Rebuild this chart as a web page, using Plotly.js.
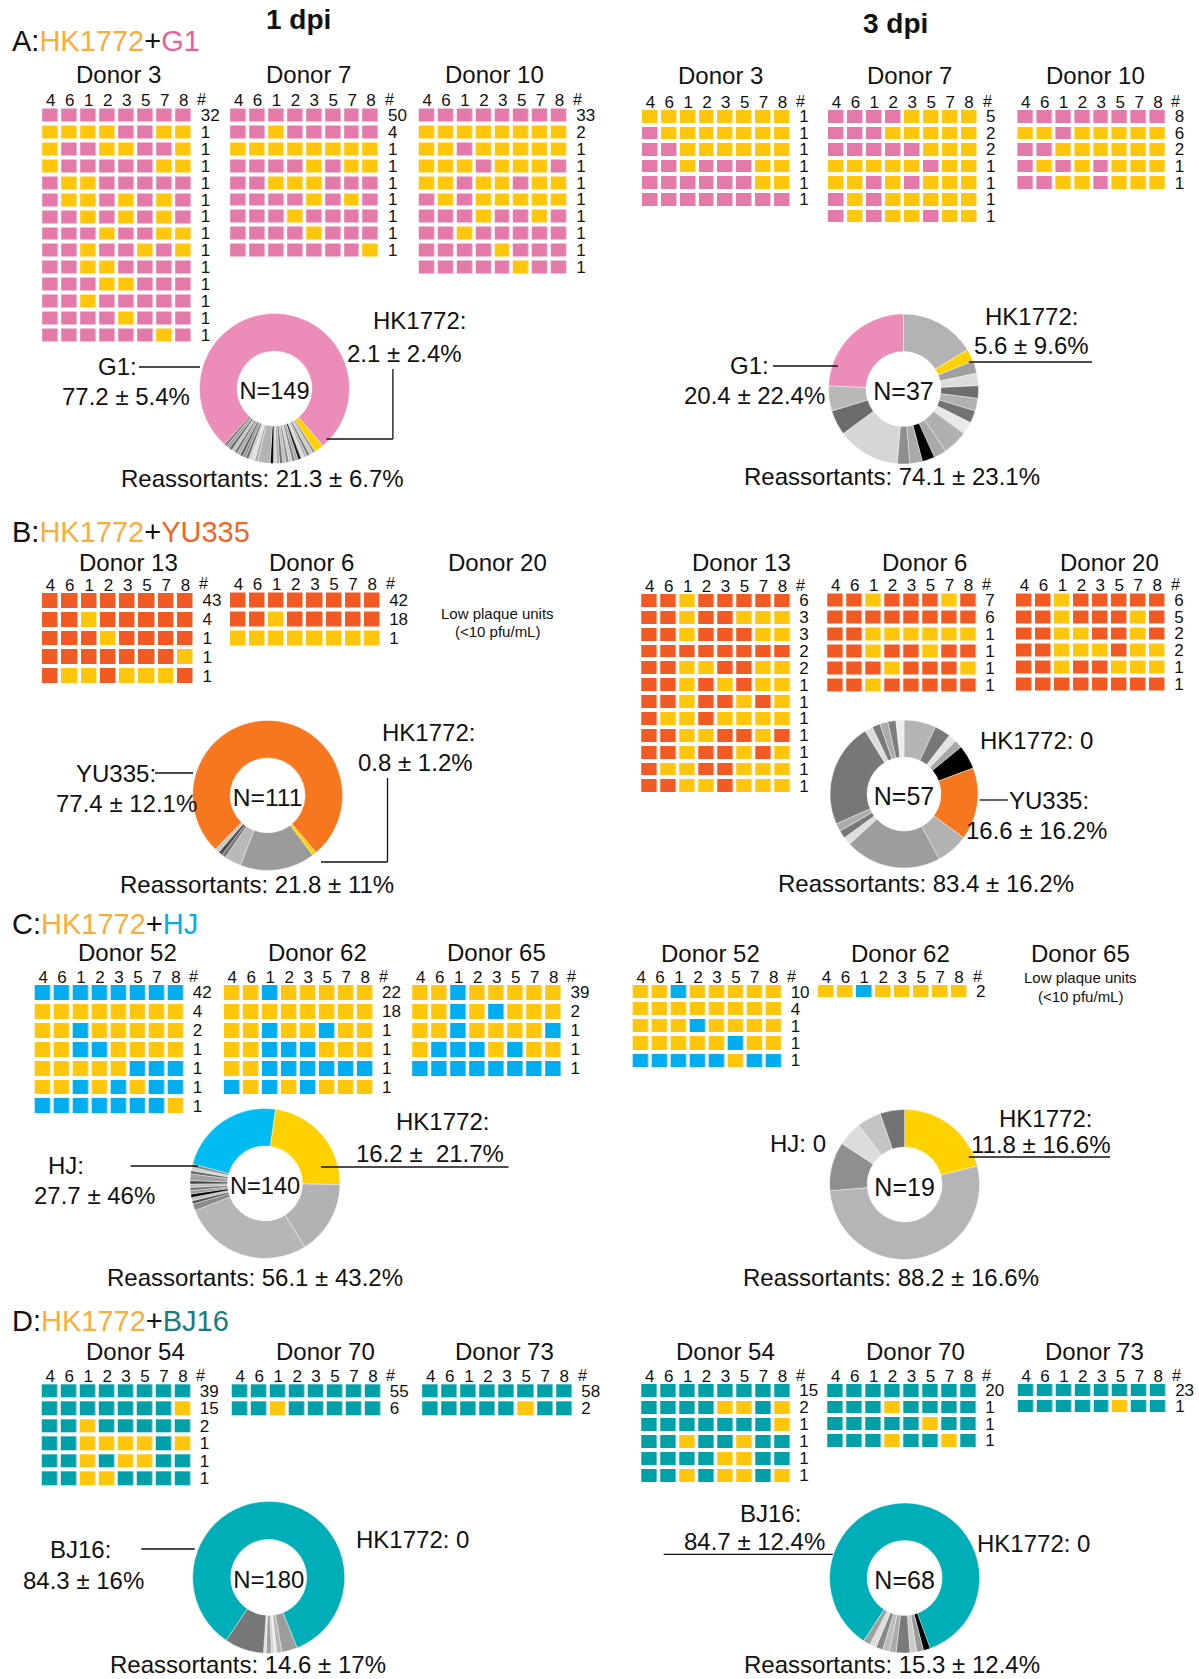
<!DOCTYPE html>
<html>
<head>
<meta charset="utf-8">
<script src="https://cdn.plot.ly/plotly-3.0.1.min.js"></script>
<style>html,body{margin:0;padding:0;background:#fff}#chart{width:1199px;height:1679px}</style>
</head>
<body>
<div id="chart"></div>
<script>
// ---------------- DATA ----------------
// Segment order of the genotype grids
const segments = ['4', '6', '1', '2', '3', '5', '7', '8'];
// H = segment from HK1772, P = segment from the partner strain

// A: HK1772 + G1, 1 dpi
const A1_D3_rows = ['PPPPPPPP','HHHHPPHH','HPPHHPPH','HPPPPPHH','PHHPPPPP','PHHPHPHP','PPHPHPHP','PPPHPPHH','PPHPPHPH','PPHHPPPP','PPPHHPPP','PPHPPPPP','PPPPHPPP','PPPPPPHP'];
const A1_D3_counts = [32,1,1,1,1,1,1,1,1,1,1,1,1,1];
const A1_D7_rows = ['PPPPPPPP','PPHPPPPP','HHHHHHHH','PPPPHPHH','PPHHHPPP','PPPPHPHP','PPPHPPPP','PPPPHPPP','PPPPPPPH'];
const A1_D7_counts = [50,4,1,1,1,1,1,1,1];
const A1_D10_rows = ['PPPPPPPP','HHHHHHHH','HHPHHHHH','HHHPHHHP','HHPHHPHH','PHPHHHHH','PPPHPPHP','PPHPPPPP','PPPPHPPP','PPPPPHPP'];
const A1_D10_counts = [33,2,1,1,1,1,1,1,1,1];
// A: 3 dpi
const A3_D3_rows = ['HHHHHHHH','PHHHHHHH','PPHHHHHH','PPHPPPHH','PPPPPPHH','PPPPPPPP'];
const A3_D3_counts = [1,1,1,1,1,1];
const A3_D7_rows = ['PPPPHHHH','PPPHHHHH','PPPPPHHH','HHHHHPHH','HHPHPHHH','PHPHHHHH','PHPHHPHH'];
const A3_D7_counts = [5,2,2,1,1,1,1];
const A3_D10_rows = ['PPPPPPPP','HHPHHHHH','PPHHHHHH','PHPHPHHH','PPHHPHHH'];
const A3_D10_counts = [8,6,2,1,1];

// B: HK1772 + YU335
const B1_D13_rows = ['PPPPPPPP','PPHPPPPP','PPPHPPPP','PPPPPPPH','PHHPHHHP'];
const B1_D13_counts = [43,4,1,1,1];
const B1_D6_rows = ['PPPPPPPP','PPHPPPPP','HHHHHHHH'];
const B1_D6_counts = [42,18,1];
const B3_D13_rows = ['PPHPPPPP','PPHPPHHH','PPHPPPHH','PPPPPPPP','PPHHPPHH','PPHPHPHH','PPHPPHPH','PHHPHHHH','PPHHPPHP','PPHPPHPH','PHHPPHHH','PPHHPHHH'];
const B3_D13_counts = [6,3,3,2,2,1,1,1,1,1,1,1];
const B3_D6_rows = ['PPHPPPHP','PPPPPPPP','PPHHHHHH','PPHPPHPP','PPPHPPPH','PPHPPPPP'];
const B3_D6_counts = [7,6,1,1,1,1];
const B3_D20_rows = ['PPHPPPPP','PPHPPPHP','PPHHPPHP','PPHHHPHH','PPHPPHHH','PPPPPPPP'];
const B3_D20_counts = [6,5,2,2,1,1];

// C: HK1772 + HJ
const C1_D52_rows = ['PPPPPPPP','HHHHHHHH','HHPHHHHH','HHPPHHHH','HHHHHPPP','HHPHPHPP','PPPPPPPH'];
const C1_D52_counts = [42,4,2,1,1,1,1];
const C1_D62_rows = ['HHPHHHHH','HHHHHHHH','HHPHHPHH','HHPPPHHH','HHPPPPPP','PHPHPHHH'];
const C1_D62_counts = [22,18,1,1,1,1];
const C1_D65_rows = ['HHPHHHHH','HHPHPHHH','HHPHHHHP','HPPPHPHH','PPPPPPPP'];
const C1_D65_counts = [39,2,1,1,1];
const C3_D52_rows = ['HHPHHHHH','HHHHHHHH','HHHPHHHH','HHHHHPHH','PPPPPHPP'];
const C3_D52_counts = [10,4,1,1,1];
const C3_D62_rows = ['HHPHHHHH'];
const C3_D62_counts = [2];

// D: HK1772 + BJ16
const D1_D54_rows = ['PPPPPPPP','PPPPPPPH','PPHPPPPP','PPHHHHPH','PPHPHHPP','PPHHPPPP'];
const D1_D54_counts = [39,15,2,1,1,1];
const D1_D70_rows = ['PPPPPPPP','PPHPPPPP'];
const D1_D70_counts = [55,6];
const D1_D73_rows = ['PPPPPPPP','PPPPPHPP'];
const D1_D73_counts = [58,2];
const D3_D54_rows = ['PPPPPPPP','PPPPHHPH','PPPPPPPH','PPHPPHPP','PPPPHHPP','PPHPHHPH'];
const D3_D54_counts = [15,2,1,1,1,1];
const D3_D70_rows = ['PPPPPPPP','PPPHPPPP','PPPPPHPP','PPPHPPHP'];
const D3_D70_counts = [20,1,1,1];
const D3_D73_rows = ['PPPPPPPP','PPPPPHPP'];
const D3_D73_counts = [23,1];

// Donut slices (clockwise) and slice colours
const pieA1_values = [115,3,1,1,1,1,1,1,1,1,1,1,1,1,1,1,1,4,1,1,1,1,1,1,1,1,1,1,1,1];
const pieA1_colors = ['g1','hk','#9a9a9a','#c6c6c6','#7a7a7a','#b4b4b4','#d9d9d9','#1a1a1a','#a3a3a3','#7f7f7f','#cccccc','#8d8d8d','#b8b8b8','#6f6f6f','#a6a6a6','#d0d0d0','#000000','#b3b3b5','#a9a9ab','#dedede','#cfcfcf','#6b6b6b','#909090','#5e5e5e','#a5a5a5','#777777','#c0c0c0','#686868','#9c9c9c','#808080'];
const pieA3_values = [6,1,1,1,1,1,1,1,2,1,1,1,1,5,2,2,9];
const pieA3_colors = ['#b3b3b5','hk','#a0a0a0','#dcdcdc','#6e6e6e','#b1b1b1','#737373','#e8e8e8','#b0b0b2','#a8a8aa','#000000','#a9a9a9','#8e8e8e','#d6d6d6','#6b6b6b','#b8b8b8','g1'];
const pieB1_values = [85,1,18,4,1,1,1];
const pieB1_colors = ['yu','hk','#9b9b9b','#b9b9b9','#7a7a7a','#4d4d4d','#c8c8c8'];
const pieB3_values = [4,2,1,1,3,9,4,12,1,1,1,13,1,1,1,1,1];
const pieB3_colors = ['#b4b4b6','#787878','#e3e3e3','#a8a8a8','#000000','yu','#b2b2b4','#9d9d9d','#dedede','#787878','#ababab','#777777','#dcdcdc','#7a7a7a','#aaaaaa','#7d7d7d','#ececec'];
const pieC1_values = [32,22,39,2,1,1,1,1,1,1,1,2,1,1,1,32];
const pieC1_colors = ['hk','#b2b2b4','#b6b6b8','#8a8a8a','#555555','#c0c0c0','#000000','#999999','#777777','#bbbbbb','#444444','#a0a0a0','#666666','#d0d0d0','#888888','hj'];
const pieC3_values = [4,10,2,1,1,1];
const pieC3_colors = ['hk','#b5b5b7','#8f8f8f','#dcdcdc','#c4c4c4','#727272'];
const pieD1_values = [152,6,2,1,1,2,1,15];
const pieD1_colors = ['bj','#9d9d9d','#b5b5b5','#e6e6e6','#cfcfcf','#a0a0a0','#dddddd','#777777'];
const pieD3_values = [58,1,1,1,2,1,1,1,1,1];
const pieD3_colors = ['bj','#000000','#9a9a9a','#cccccc','#7a7a7a','#aaaaaa','#bbbbbb','#888888','#dddddd','#a0a0a0'];

// ---------------- STYLE ----------------
const W = 1199, H = 1679;
const FONT = 'Liberation Sans, Arial, Helvetica, sans-serif';
const cellColor = {hk:'#FFC60B', g1:'#E37AA9', yu:'#F15A22', hj:'#00ADEF', bj:'#00A0A9'};
const pieColor = {hk:'#FFD100', g1:'#EC8DB9', yu:'#F7771E', hj:'#00BCF2', bj:'#00AEB7'};
const textColor = {hk:'#F9AE3C', g1:'#E8619C', yu:'#F26522', hj:'#00AEEF', bj:'#167C80'};
const px = x => x / W;
const py = y => 1 - y / H;

const grids = [
  {rows:A1_D3_rows, counts:A1_D3_counts, p:'g1', box:[42.9,108.5,191.6,341.5], title:'Donor 3', tx:118.4, ty:75},
  {rows:A1_D7_rows, counts:A1_D7_counts, p:'g1', box:[230.9,108.5,378.8,256.7], title:'Donor 7', tx:308.9, ty:75},
  {rows:A1_D10_rows, counts:A1_D10_counts, p:'g1', box:[419.5,108.5,567.1,273.5], title:'Donor 10', tx:494.6, ty:75},
  {rows:A3_D3_rows, counts:A3_D3_counts, p:'g1', box:[642.7,110,790.1,205.6], title:'Donor 3', tx:720.4, ty:76},
  {rows:A3_D7_rows, counts:A3_D7_counts, p:'g1', box:[828.7,110,976.8,222.2], title:'Donor 7', tx:909.8, ty:76},
  {rows:A3_D10_rows, counts:A3_D10_counts, p:'g1', box:[1018.1,110,1165.7,189], title:'Donor 10', tx:1095.8, ty:76},
  {rows:B1_D13_rows, counts:B1_D13_counts, p:'yu', box:[42.7,593,193.3,683], title:'Donor 13', tx:128.7, ty:563},
  {rows:B1_D6_rows, counts:B1_D6_counts, p:'yu', box:[230.7,592.5,380,645], title:'Donor 6', tx:311.7, ty:563},
  {rows:B3_D13_rows, counts:B3_D13_counts, p:'yu', box:[642,594,790.1,792.3], title:'Donor 13', tx:741, ty:562},
  {rows:B3_D6_rows, counts:B3_D6_counts, p:'yu', box:[828,593.5,976.1,691.7], title:'Donor 6', tx:924.8, ty:562},
  {rows:B3_D20_rows, counts:B3_D20_counts, p:'yu', box:[1016.7,593.5,1165,690], title:'Donor 20', tx:1109.6, ty:562},
  {rows:C1_D52_rows, counts:C1_D52_counts, p:'hj', box:[35.4,985,183.6,1113.3], title:'Donor 52', tx:127.7, ty:952},
  {rows:C1_D62_rows, counts:C1_D62_counts, p:'hj', box:[224.6,985,372.9,1094.4], title:'Donor 62', tx:317, ty:952},
  {rows:C1_D65_rows, counts:C1_D65_counts, p:'hj', box:[412.9,985,561.4,1075.5], title:'Donor 65', tx:497, ty:952},
  {rows:C3_D52_rows, counts:C3_D52_counts, p:'hj', box:[633.4,985,781.5,1066.7], title:'Donor 52', tx:710.4, ty:953},
  {rows:C3_D62_rows, counts:C3_D62_counts, p:'hj', box:[818.7,985,966.8,997.3], title:'Donor 62', tx:900.7, ty:953},
  {rows:D1_D54_rows, counts:D1_D54_counts, p:'bj', box:[42.5,1384.3,190.7,1485], title:'Donor 54', tx:135.4, ty:1351},
  {rows:D1_D70_rows, counts:D1_D70_counts, p:'bj', box:[232.5,1384.3,380.7,1415], title:'Donor 70', tx:325.2, ty:1351},
  {rows:D1_D73_rows, counts:D1_D73_counts, p:'bj', box:[422.9,1384.3,572.1,1415], title:'Donor 73', tx:504.5, ty:1351},
  {rows:D3_D54_rows, counts:D3_D54_counts, p:'bj', box:[642,1384,790.1,1481.7], title:'Donor 54', tx:725.6, ty:1351},
  {rows:D3_D70_rows, counts:D3_D70_counts, p:'bj', box:[828,1384,976.1,1446.7], title:'Donor 70', tx:915.5, ty:1351},
  {rows:D3_D73_rows, counts:D3_D73_counts, p:'bj', box:[1018.5,1384,1166,1411.7], title:'Donor 73', tx:1094, ty:1351}
];

const donuts = [
  {values:pieA1_values, colors:pieA1_colors, rot:-138, cx:274.5, cy:388.5, r:75, n:'N=149'},
  {values:pieA3_values, colors:pieA3_colors, rot:0, cx:903.5, cy:389, r:75, n:'N=37'},
  {values:pieB1_values, colors:pieB1_colors, rot:-136, cx:267.6, cy:795.4, r:75, n:'N=111'},
  {values:pieB3_values, colors:pieB3_colors, rot:0, cx:904, cy:794, r:74, n:'N=57'},
  {values:pieC1_values, colors:pieC1_colors, rot:8, cx:265, cy:1183.4, r:75, n:'N=140'},
  {values:pieC3_values, colors:pieC3_colors, rot:0, cx:904.6, cy:1184.5, r:75, n:'N=19'},
  {values:pieD1_values, colors:pieD1_colors, rot:-146, cx:268.7, cy:1577.4, r:76, n:'N=180'},
  {values:pieD3_values, colors:pieD3_colors, rot:-147, cx:904.6, cy:1578, r:75, n:'N=68'}
];

const sp = (c, t) => '<span style="color:' + textColor[c] + '">' + t + '</span>';
const headers = [
  {t:'A:' + sp('hk','HK1772') + '+' + sp('g1','G1'), x:11, y:40.7},
  {t:'B:' + sp('hk','HK1772') + '+' + sp('yu','YU335'), x:11, y:532},
  {t:'C:' + sp('hk','HK1772') + '+' + sp('hj','HJ'), x:11, y:924},
  {t:'D:' + sp('hk','HK1772') + '+' + sp('bj','BJ16'), x:11, y:1321}
];

const labels = [
  {t:'HK1772:', x:419.6, y:321}, {t:'2.1 ± 2.4%', x:404.6, y:353},
  {t:'G1:', x:117.8, y:367}, {t:'77.2 ± 5.4%', x:126.3, y:397},
  {t:'Reassortants: 21.3 ± 6.7%', x:262.3, y:478.5},
  {t:'HK1772:', x:1031, y:317}, {t:'5.6 ± 9.6%', x:1031, y:345.8},
  {t:'G1:', x:749.4, y:366}, {t:'20.4 ± 22.4%', x:754.7, y:396},
  {t:'Reassortants: 74.1 ± 23.1%', x:891.7, y:476.4},
  {t:'HK1772:', x:428.2, y:732.2}, {t:'0.8 ± 1.2%', x:415.4, y:762.2},
  {t:'YU335:', x:115.6, y:773}, {t:'77.4 ± 12.1%', x:126.3, y:803},
  {t:'Reassortants: 21.8 ± 11%', x:257, y:884.5},
  {t:'HK1772: 0', x:1036.2, y:740.8}, {t:'YU335:', x:1049, y:800.7},
  {t:'16.6 ± 16.2%', x:1036, y:830.7}, {t:'Reassortants: 83.4 ± 16.2%', x:926, y:883},
  {t:'HK1772:', x:442, y:1121}, {t:'16.2 ±\u00a0 21.7%', x:430, y:1153},
  {t:'HJ:', x:66.4, y:1165.8}, {t:'27.7 ± 46%', x:94.2, y:1195.8},
  {t:'Reassortants: 56.1 ± 43.2%', x:254.8, y:1277},
  {t:'HJ: 0', x:797.5, y:1143.3}, {t:'HK1772:', x:1045.9, y:1118.5},
  {t:'11.8 ± 16.6%', x:1040.5, y:1144.5}, {t:'Reassortants: 88.2 ± 16.6%', x:890.7, y:1277},
  {t:'BJ16:', x:80.3, y:1549}, {t:'84.3 ± 16%', x:83.5, y:1580},
  {t:'HK1772: 0', x:412.2, y:1539.4}, {t:'Reassortants: 14.6 ± 17%', x:248.4, y:1664.6},
  {t:'BJ16:', x:770.8, y:1513.7}, {t:'84.7 ± 12.4%', x:754.7, y:1541.5},
  {t:'HK1772: 0', x:1033, y:1543.7}, {t:'Reassortants: 15.3 ± 12.4%', x:891.7, y:1664.6}
];

const lowText = [
  {t:'Donor 20', x:497.8, y:563, s:24}, {t:'Low plaque units', x:497.8, y:613.4, s:15}, {t:'(&lt;10 pfu/mL)', x:497.8, y:631.6, s:15},
  {t:'Donor 65', x:1080, y:953, s:24}, {t:'Low plaque units', x:1080, y:977, s:15}, {t:'(&lt;10 pfu/mL)', x:1080, y:996.5, s:15}
];

const leaders = [
  [139,367,200,367], [392.9,369,392.9,439], [326.5,439,392.9,439],
  [773,366,838,366], [968.8,362,1092,362],
  [155,773,193,773], [387.5,778,387.5,862], [321,862,387.5,862],
  [979.5,800,1008,800],
  [130.6,1166,198,1166], [321,1167,508.5,1167],
  [968.8,1157,1110,1157],
  [141.3,1549,194.8,1549],
  [663.7,1554.4,832.8,1554.4]
];

// ---------------- BUILD ----------------
const data = [];
const annotations = [];
const shapes = [];
const layout = {
  width: W, height: H, margin: {l:0, r:0, t:0, b:0},
  paper_bgcolor: '#ffffff', plot_bgcolor: 'rgba(0,0,0,0)',
  font: {family: FONT, color: '#111111', size: 16},
  showlegend: false
};

const GX = 3.5, GY = 4, TF = 17;
grids.forEach((g, i) => {
  const k = i + 1;
  const sfx = k === 1 ? '' : String(k);
  const xa = 'x' + sfx, ya = 'y' + sfx;
  const [x0, y0, x1, y1] = g.box;
  const z = g.rows.map(r => r.split('').map(c => c === 'H' ? 1 : 0));
  const idx = g.rows.map((r, j) => j);
  data.push({
    type: 'heatmap', z: z, x: segments.map((s, j) => j), y: idx,
    xaxis: xa, yaxis: ya,
    colorscale: [[0, cellColor[g.p]], [1, cellColor.hk]], zmin: 0, zmax: 1,
    showscale: false, xgap: GX, ygap: GY, hoverinfo: 'skip'
  });
  layout['xaxis' + sfx] = {
    domain: [px(x0 - GX / 2), px(x1 + GX / 2)], anchor: ya, side: 'top',
    range: [-0.5, 7.5], tickmode: 'array', tickvals: segments.map((s, j) => j), ticktext: segments,
    tickfont: {size: TF, color: '#111'}, ticks: '', ticklabelstandoff: -4,
    showgrid: false, zeroline: false, showline: false, fixedrange: true
  };
  layout['yaxis' + sfx] = {
    domain: [py(y1 + GY / 2), py(y0 - GY / 2)], anchor: xa, side: 'right',
    range: [g.rows.length - 0.5, -0.5], tickmode: 'array', tickvals: idx, ticktext: g.counts.map(String),
    tickfont: {size: TF, color: '#111'}, ticks: 'outside', ticklen: 3, tickcolor: 'rgba(0,0,0,0)',
    showgrid: false, zeroline: false, showline: false, fixedrange: true
  };
  annotations.push({text: '#', xref: xa + ' domain', yref: ya + ' domain', x: 1, y: 1,
    xanchor: 'left', yanchor: 'middle', xshift: 3, yshift: 7, borderpad: 0, showarrow: false,
    font: {size: 16, color: '#111'}});
  annotations.push({text: g.title, xref: 'paper', yref: 'paper', x: px(g.tx), y: py(g.ty),
    xanchor: 'center', yanchor: 'middle', borderpad: 0, showarrow: false, font: {size: 24, color: '#111'}});
});

donuts.forEach(d => {
  data.push({
    type: 'pie', values: d.values,
    marker: {colors: d.colors.map(c => pieColor[c] || c), line: {color: '#ffffff', width: 0.4}},
    sort: false, direction: 'clockwise', rotation: d.rot, hole: 0.5,
    textinfo: 'none', hoverinfo: 'skip', showlegend: false,
    domain: {x: [px(d.cx - d.r), px(d.cx + d.r)], y: [py(d.cy + d.r), py(d.cy - d.r)]},
    title: {text: d.n, position: 'middle center', font: {size: 25, color: '#111', family: FONT}}
  });
});

headers.forEach(h => annotations.push({text: h.t, xref: 'paper', yref: 'paper', x: px(h.x), y: py(h.y),
  xanchor: 'left', yanchor: 'middle', borderpad: 0, showarrow: false, font: {size: 29, color: '#111'}}));
annotations.push({text: '<b>1 dpi</b>', xref: 'paper', yref: 'paper', x: px(298.7), y: py(19.3),
  xanchor: 'center', yanchor: 'middle', borderpad: 0, showarrow: false, font: {size: 28, color: '#111'}});
annotations.push({text: '<b>3 dpi</b>', xref: 'paper', yref: 'paper', x: px(895), y: py(23.6),
  xanchor: 'center', yanchor: 'middle', borderpad: 0, showarrow: false, font: {size: 28, color: '#111'}});
labels.forEach(l => annotations.push({text: l.t, xref: 'paper', yref: 'paper', x: px(l.x), y: py(l.y),
  xanchor: 'center', yanchor: 'middle', borderpad: 0, showarrow: false, font: {size: 24, color: '#111'}}));
lowText.forEach(l => annotations.push({text: l.t, xref: 'paper', yref: 'paper', x: px(l.x), y: py(l.y),
  xanchor: 'center', yanchor: 'middle', borderpad: 0, showarrow: false, font: {size: l.s, color: '#111'}}));
leaders.forEach(s => shapes.push({type: 'line', xref: 'paper', yref: 'paper',
  x0: px(s[0]), y0: py(s[1]), x1: px(s[2]), y1: py(s[3]), line: {color: '#111', width: 1.3}}));

layout.annotations = annotations;
layout.shapes = shapes;

Plotly.newPlot('chart', data, layout, {staticPlot: true, displayModeBar: false});
</script>
</body>
</html>
